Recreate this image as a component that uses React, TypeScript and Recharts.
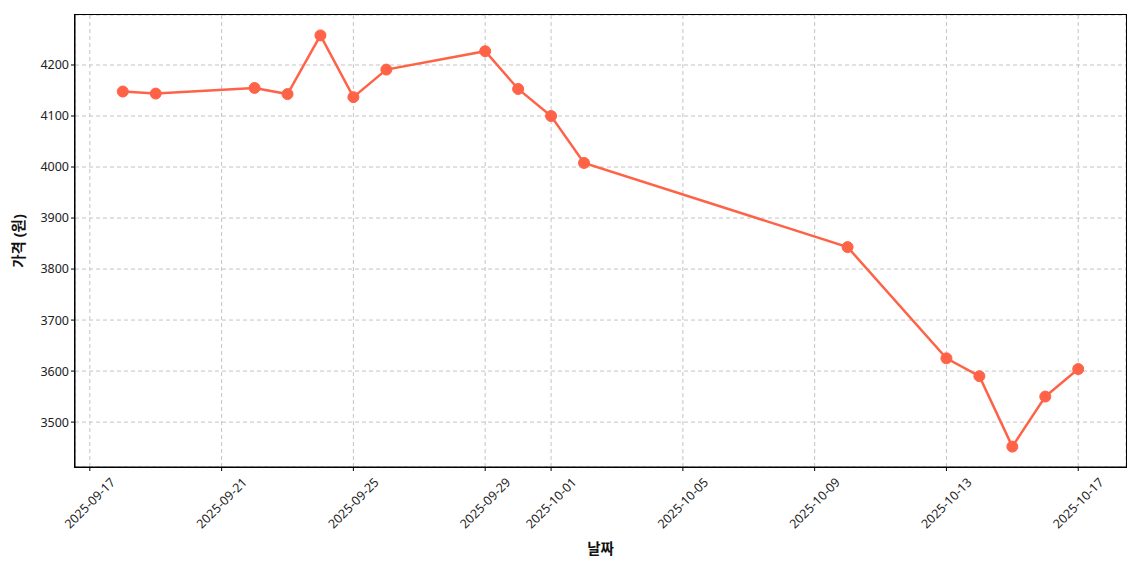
import React from 'react'
import {
  LineChart,
  Line,
  XAxis,
  YAxis,
  CartesianGrid,
  Label
} from 'recharts'

const dates = [
  '2025-09-18', '2025-09-19', '2025-09-22', '2025-09-23', '2025-09-24',
  '2025-09-25', '2025-09-26', '2025-09-29', '2025-09-30', '2025-10-01',
  '2025-10-02', '2025-10-10', '2025-10-13', '2025-10-14', '2025-10-15',
  '2025-10-16', '2025-10-17'
]

const prices = [
  4148, 4144, 4155, 4143, 4258,
  4137, 4191, 4227, 4153, 4100,
  4008, 3843, 3625, 3590, 3452,
  3550, 3604
]

const xTickDates = [
  '2025-09-17', '2025-09-21', '2025-09-25', '2025-09-29', '2025-10-01',
  '2025-10-05', '2025-10-09', '2025-10-13', '2025-10-17'
]

const yTicks = [3500, 3600, 3700, 3800, 3900, 4000, 4100, 4200]

const DAY = 24 * 3600 * 1000
const BASE = Date.UTC(2025, 8, 17)
const toDay = (s: string) => (Date.parse(s + 'T00:00:00Z') - BASE) / DAY
const fromDay = (d: number) => new Date(BASE + d * DAY).toISOString().slice(0, 10)

const COLOR = '#FF6347'
const FONT = '"Noto Sans", "Noto Sans CJK KR", sans-serif'

const chartData = dates.map((d, i) => ({ t: toDay(d), price: prices[i] }))
const xTicks = xTickDates.map(toDay)

const DateTick = ({ x, y, payload }: any) => {
  const cy = y + 30
  return (
    <text
      x={x}
      y={cy}
      textAnchor="middle"
      dominantBaseline="central"
      fontSize={12.5}
      fill="#222"
      fontFamily={FONT}
      transform={`rotate(-45, ${x}, ${cy})`}
    >
      {fromDay(payload.value)}
    </text>
  )
}

export default function App() {
  return (
    <div style={{ position: 'absolute', left: 0, top: 0, width: 1140, height: 570, background: '#fff' }}>
      <LineChart
        width={1140}
        height={570}
        data={chartData}
        margin={{ top: 15, right: 14, bottom: 0, left: 15 }}
      >
        <CartesianGrid stroke="#c4c4c4" strokeDasharray="4 3" />
        <XAxis
          dataKey="t"
          type="number"
          domain={[-0.45, 31.45]}
          ticks={xTicks}
          interval={0}
          height={103}
          tick={<DateTick />}
          tickSize={4}
          axisLine={{ stroke: '#000' }}
          tickLine={{ stroke: '#000' }}
          allowDataOverflow
        >
          <Label
            value="날짜"
            position="insideBottom"
            offset={16}
            style={{ fontSize: 14.5, fontWeight: 'bold', fill: '#111', fontFamily: FONT }}
          />
        </XAxis>
        <YAxis
          type="number"
          domain={[3412, 4298]}
          ticks={yTicks}
          interval={0}
          width={60}
          tickSize={4}
          tick={{ fontSize: 12.5, fill: '#222', fontFamily: FONT }}
          axisLine={{ stroke: '#000' }}
          tickLine={{ stroke: '#000' }}
          allowDataOverflow
        >
          <Label
            value="가격 (원)"
            angle={-90}
            position="insideLeft"
            offset={4}
            style={{ fontSize: 14.5, fontWeight: 'bold', fill: '#111', fontFamily: FONT, textAnchor: 'middle' }}
          />
        </YAxis>
        <Line
          dataKey="price"
          stroke={COLOR}
          strokeWidth={2.5}
          dot={{ r: 5.5, fill: COLOR, stroke: COLOR, strokeWidth: 1 }}
          activeDot={false}
          isAnimationActive={false}
        />
      </LineChart>
      <div
        style={{
          position: 'absolute',
          left: 74,
          top: 14,
          width: 1053,
          height: 454,
          boxSizing: 'border-box',
          border: '1px solid #000',
          pointerEvents: 'none'
        }}
      />
    </div>
  )
}
